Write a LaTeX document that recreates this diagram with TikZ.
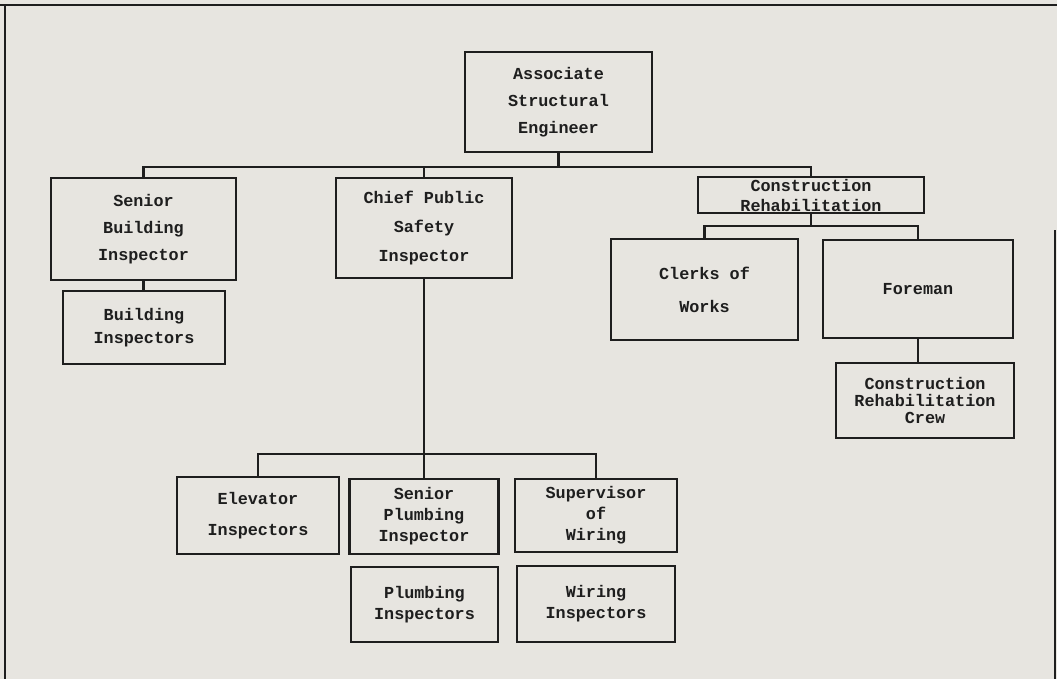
\documentclass[tikz,border=0pt]{standalone}
\usepackage{fontspec}
\setmonofont{Liberation Mono}
\usepackage{tikz}
\usetikzlibrary{positioning, calc}

\definecolor{paper}{RGB}{231,229,224}
\definecolor{ink}{RGB}{30,30,30}
\newcommand\orgfont[1]{\fontsize{16.8}{#1}\selectfont\ttfamily\bfseries}

\begin{document}
\begin{tikzpicture}[
        x=1pt, y=-1pt,
        box/.style={rectangle, draw=ink, line width=2.2pt, inner sep=0pt, outer sep=0pt,
            align=center, text=ink, font=\orgfont{#1}},
        box/.default=21,
        link/.style={draw=ink, line width=2.2pt},
        frame/.style={draw=ink, line width=2.2pt}
    ]
    \fill[paper] (0,0) rectangle (1057,679);
    \useasboundingbox (0,0) rectangle (1057,679);

    % sheet edges
    \draw[frame] (0,5) -- (1057,5);
    \draw[frame] (5,5) -- (5,679);
    \draw[frame] (1055,230) -- (1055,679);

    % top of the chart
    \node[box=27, minimum width=187, minimum height=100] (ase) at (558.5,102) {Associate\\Structural\\Engineer};

    % second row
    \node[box=27, minimum width=185, minimum height=102] (sbi) at (143.5,229) {Senior\\Building\\Inspector};
    \node[box=23, minimum width=162, minimum height=73] (bi) at (144,327.5) {Building\\Inspectors};
    \node[box=29, minimum width=176, minimum height=100] (cpsi) at (424,228) {Chief Public\\Safety\\Inspector};
    \node[box=20, minimum width=226, minimum height=36] (cr) at (811,195) {Construction\\Rehabilitation};

    % construction rehabilitation branch
    \node[box=33, minimum width=187, minimum height=101] (cow) at (704.5,289.5) {Clerks of\\Works};
    \node[box, minimum width=190, minimum height=98] (fore) at (918,289) {Foreman};
    \node[box=17, minimum width=178, minimum height=75] (crew) at (925,400.5) {Construction\\Rehabilitation\\Crew};

    % public safety branch
    \node[box=31, minimum width=162, minimum height=77] (elev) at (258,515.5) {Elevator\\Inspectors};
    \node[box, minimum width=149, minimum height=75] (spi) at (424,516.5) {Senior\\Plumbing\\Inspector};
    \node[box, minimum width=162, minimum height=73] (sow) at (596,515.5) {Supervisor\\of\\Wiring};
    \node[box, minimum width=147, minimum height=75] (pi) at (424.5,604.5) {Plumbing\\Inspectors};
    \node[box, minimum width=158, minimum height=76] (wi) at (596,604) {Wiring\\Inspectors};

    % connectors
    \draw[link] (ase.south) -- ++(0,15) coordinate (j1);
    \draw[link] (sbi.north) |- (j1) -| (cr.north);
    \draw[link] (cpsi.north) -- (cpsi.north |- j1);
    \draw[link] (sbi.south) -- (sbi.south |- bi.north);
    \draw[link] (cr.south) -- ++(0,13) coordinate (j2);
    \draw[link] (cow.north) |- (j2) -| (fore.north);
    \draw[link] (fore.south) -- (fore.south |- crew.north);
    \draw[link] (cpsi.south) -- ++(0,176) coordinate (j3);
    \draw[link] (elev.north) |- (j3) -| (sow.north);
    \draw[link] (spi.north) -- (j3);

\end{tikzpicture}
\end{document}
